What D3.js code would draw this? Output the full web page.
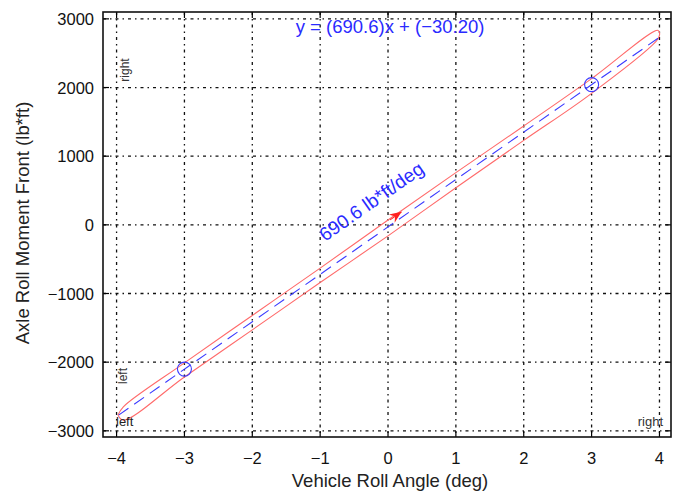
<!DOCTYPE html>
<html>
<head>
<meta charset="utf-8">
<script src="https://cdn.jsdelivr.net/npm/d3@7"></script>
<style>
  body { margin: 0; background: #fff; }
  text { font-family: "Liberation Sans", Arial, sans-serif; }
</style>
</head>
<body>
<svg id="chart" width="673" height="491"></svg>
<script>
// ticks
const xTicks = [-4, -3, -2, -1, 0, 1, 2, 3, 4]
const yTicks = [-3000, -2000, -1000, 0, 1000, 2000, 3000]

// hysteresis loop (red)
const loopX = [-3.98, -3.9, -3, -2, -1, 0, 1, 2, 3, 3.97, 4.0, 3.98, 3, 2, 1, 0, -1, -2, -3, -3.9, -3.98]
const loopY = [-2770, -2650, -2010, -1320, -630, 70, 760, 1440, 2130, 2835, 2800, 2710, 1915, 1230, 540, -160, -840, -1530, -2215, -2845, -2770]

// linear fit (blue dashed) and marked points
const fitX = [-3.97, 4]
const fitY = [-2772, 2732]
const markX = [-3, 3]
const markY = [-2101, 2042]

const fitLabel = "y = (690.6)x + (\u221230.20)"
const slopeLabel = "690.6 lb*ft/deg"

var svg = d3.select("#chart"),
    pL = 103, pR = 671, pT = 12, pB = 437;

var x = d3.scaleLinear().domain([-4.2, 4.17]).range([pL, pR]);
var y = d3.scaleLinear().domain([-3090, 3100]).range([pB, pT]);

// grid
var grid = svg.append("g")
    .attr("stroke", "#111")
    .attr("stroke-width", 1.3)
    .attr("stroke-dasharray", "3,4,1.5,4");
grid.selectAll(".gx").data(xTicks).enter().append("line")
    .attr("x1", (d) => x(d)).attr("x2", (d) => x(d))
    .attr("y1", pT).attr("y2", pB);
grid.selectAll(".gy").data(yTicks).enter().append("line")
    .attr("x1", pL).attr("x2", pR)
    .attr("y1", (d) => y(d)).attr("y2", (d) => y(d));

// ticks pointing inward
var tk = svg.append("g").attr("stroke", "#000").attr("stroke-width", 1.2);
xTicks.forEach((d) => {
  tk.append("line").attr("x1", x(d)).attr("x2", x(d)).attr("y1", pB).attr("y2", pB - 6);
  tk.append("line").attr("x1", x(d)).attr("x2", x(d)).attr("y1", pT).attr("y2", pT + 6);
});
yTicks.forEach((d) => {
  tk.append("line").attr("x1", pL).attr("x2", pL + 6).attr("y1", y(d)).attr("y2", y(d));
  tk.append("line").attr("x1", pR).attr("x2", pR - 6).attr("y1", y(d)).attr("y2", y(d));
});

// tick labels
svg.append("g").selectAll("text").data(xTicks).enter().append("text")
    .attr("x", (d) => x(d)).attr("y", 464)
    .attr("text-anchor", "middle")
    .attr("font-size", 16.5).attr("fill", "#111")
    .text((d) => d < 0 ? "\u2212" + Math.abs(d) : d);
svg.append("g").selectAll("text").data(yTicks).enter().append("text")
    .attr("x", 94).attr("y", (d) => y(d) + 6)
    .attr("text-anchor", "end")
    .attr("font-size", 16.5).attr("fill", "#111")
    .text((d) => d < 0 ? "\u2212" + Math.abs(d) : d);

// loop
var loop = loopX.map((d, i) => ({x: d, y: loopY[i]}));
svg.append("path")
    .datum(loop)
    .attr("fill", "none")
    .attr("stroke", "#ff6a6a")
    .attr("stroke-width", 1.1)
    .attr("d", d3.line().x((d) => x(d.x)).y((d) => y(d.y)).curve(d3.curveCatmullRom));

// fit line
var fit = fitX.map((d, i) => ({x: d, y: fitY[i]}));
svg.append("path")
    .datum(fit)
    .attr("fill", "none")
    .attr("stroke", "#3a3aff")
    .attr("stroke-width", 1.1)
    .attr("stroke-dasharray", "12,7")
    .attr("d", d3.line().x((d) => x(d.x)).y((d) => y(d.y)));

// circles
svg.append("g").selectAll("circle").data(markX).enter().append("circle")
    .attr("cx", (d) => x(d)).attr("cy", (d, i) => y(markY[i]))
    .attr("r", 7)
    .attr("fill", "none")
    .attr("stroke", "#3a3aff")
    .attr("stroke-width", 1.1);

// slope angle in pixels
var ang = Math.atan2(y(fitY[1]) - y(fitY[0]), x(fitX[1]) - x(fitX[0])) * 180 / Math.PI;

// arrow
var ax = x(0.2), ay = y(190);
svg.append("g")
    .attr("transform", "translate(" + ax + "," + ay + ") rotate(" + ang + ")")
  .call((g) => {
    g.append("line").attr("x1", -14).attr("x2", 0).attr("y1", 0).attr("y2", 0)
      .attr("stroke", "#ff2020").attr("stroke-width", 1);
    g.append("path").attr("d", "M0,0 L-12,-5 L-8,0 L-12,5 Z").attr("fill", "#ff2020");
  });

// slope label
svg.append("text")
    .attr("transform", "translate(" + x(-0.93) + "," + y(-250) + ") rotate(" + ang + ")")
    .attr("font-size", 19).attr("fill", "#2a2aff")
    .text(slopeLabel);

// equation
svg.append("text")
    .attr("x", x(0.03)).attr("y", 33)
    .attr("text-anchor", "middle")
    .attr("font-size", 18.5).attr("fill", "#2a2aff")
    .text(fitLabel);

// corner labels
svg.append("text")
    .attr("transform", "translate(" + 129 + "," + 70 + ") rotate(-90)")
    .attr("text-anchor", "middle").attr("font-size", 12).attr("fill", "#333")
    .text("right");
svg.append("text")
    .attr("transform", "translate(" + 127 + "," + 376 + ") rotate(-90)")
    .attr("text-anchor", "middle").attr("font-size", 12).attr("fill", "#333")
    .text("left");
svg.append("text")
    .attr("x", 116).attr("y", 426)
    .attr("font-size", 13).attr("fill", "#222")
    .text("left");
svg.append("text")
    .attr("x", 663).attr("y", 426)
    .attr("text-anchor", "end")
    .attr("font-size", 13).attr("fill", "#333")
    .text("right");

// frame
svg.append("rect")
    .attr("x", pL).attr("y", pT)
    .attr("width", pR - pL).attr("height", pB - pT)
    .attr("fill", "none").attr("stroke", "#111").attr("stroke-width", 1.6);

// axis titles
svg.append("text")
    .attr("x", 390).attr("y", 487)
    .attr("text-anchor", "middle").attr("font-size", 18.5).attr("fill", "#222")
    .text("Vehicle Roll Angle (deg)");
svg.append("text")
    .attr("transform", "translate(29," + 223 + ") rotate(-90)")
    .attr("text-anchor", "middle").attr("font-size", 18.5).attr("fill", "#222")
    .text("Axle Roll Moment Front (lb*ft)");
</script>
</body>
</html>
